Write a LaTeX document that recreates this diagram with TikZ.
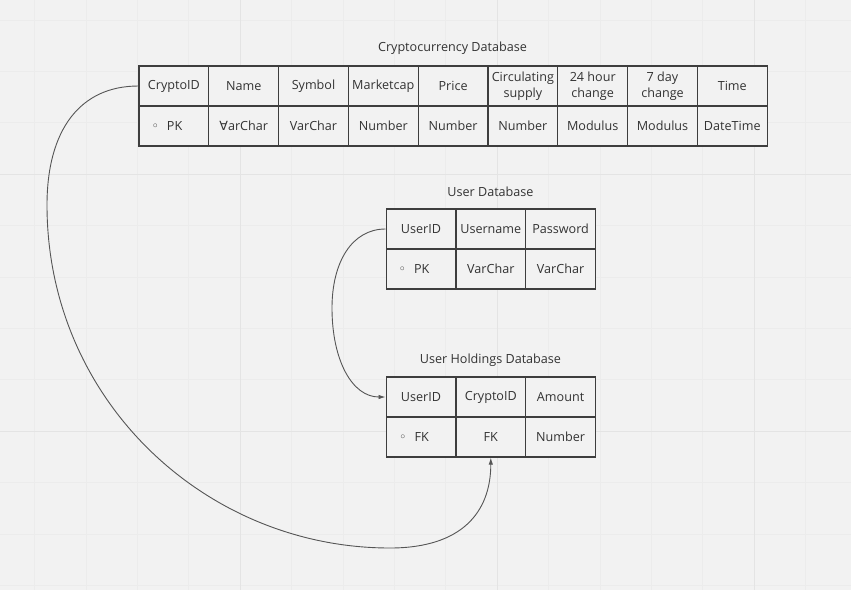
\documentclass[tikz,border=0pt]{standalone}
\usepackage{fontspec}
\setmainfont{Open Sans}
\newfontfamily\symfont{DejaVu Sans}
\usetikzlibrary{arrows.meta}
\definecolor{canvas}{RGB}{242,242,242}
\definecolor{gridminor}{RGB}{236,236,236}
\definecolor{gridmajor}{RGB}{228,228,228}
\definecolor{cellline}{RGB}{62,62,62}
\definecolor{textgray}{RGB}{51,51,51}
\definecolor{linkgray}{RGB}{85,85,85}
\tikzstyle{cell} = [rectangle, minimum width=69.8pt, minimum height=40pt, inner sep=0pt, align=center, draw=cellline, line width=1.2pt, fill=canvas, text=textgray, font=\fontsize{12.6}{16}\selectfont]
\tikzstyle{tabletitle} = [text=textgray, font=\fontsize{12.6}{15}\selectfont]
\tikzstyle{link} = [linkgray, line width=0.9pt, -{Latex[length=7pt,width=4.5pt]}]
\tikzstyle{gridline} = [gridminor, line width=0.8pt]
\tikzstyle{gridbold} = [gridmajor, line width=1.1pt]

\begin{document}
\begin{tikzpicture}[x=1pt, y=-1pt]

% Canvas and board grid
\useasboundingbox (0,0) rectangle (851,590);
\fill[canvas] (0,0) rectangle (851,590);
\foreach \k in {0,...,16} {
  \draw[gridline] ({34.6+51.4*\k},0) -- ({34.6+51.4*\k},590);
}
\foreach \k in {0,...,11} {
  \draw[gridline] (0,{20+51.4*\k}) -- (851,{20+51.4*\k});
}
\foreach \k in {4,9,14} {
  \draw[gridbold] ({34.6+51.4*\k},0) -- ({34.6+51.4*\k},590);
}
\foreach \k in {3,8} {
  \draw[gridbold] (0,{20+51.4*\k}) -- (851,{20+51.4*\k});
}

% Cryptocurrency table
\node[tabletitle] (crypto_title) at (452.5,48) {Cryptocurrency Database};
\node[cell] (crypto_id) at (173.9,86) {CryptoID};
\node[cell] (crypto_name) at (243.7,86) {Name};
\node[cell] (crypto_symbol) at (313.5,86) {Symbol};
\node[cell] (crypto_cap) at (383.3,86) {Marketcap};
\node[cell] (crypto_price) at (453.1,86) {Price};
\node[cell] (crypto_supply) at (522.9,86) {Circulating\\supply};
\node[cell] (crypto_day) at (592.7,86) {24 hour\\change};
\node[cell] (crypto_week) at (662.5,86) {7 day\\change};
\node[cell] (crypto_time) at (732.3,86) {Time};
\node[cell] (crypto_id_t) at (173.9,126) {\hspace{-14pt}{\symfont ◦}\hspace{8pt}PK};
\node[cell] (crypto_name_t) at (243.7,126) {{\symfont ∀}arChar};
\node[cell] (crypto_symbol_t) at (313.5,126) {VarChar};
\node[cell] (crypto_cap_t) at (383.3,126) {Number};
\node[cell] (crypto_price_t) at (453.1,126) {Number};
\node[cell] (crypto_supply_t) at (522.9,126) {Number};
\node[cell] (crypto_day_t) at (592.7,126) {Modulus};
\node[cell] (crypto_week_t) at (662.5,126) {Modulus};
\node[cell] (crypto_time_t) at (732.3,126) {DateTime};

% User table
\node[tabletitle] (user_title) at (490.5,192) {User Database};
\node[cell] (user_id) at (421,229) {UserID};
\node[cell] (user_name) at (490.8,229) {Username};
\node[cell] (user_pass) at (560.6,229) {Password};
\node[cell] (user_id_t) at (421,269) {\hspace{-14pt}{\symfont ◦}\hspace{8pt}PK};
\node[cell] (user_name_t) at (490.8,269) {VarChar};
\node[cell] (user_pass_t) at (560.6,269) {VarChar};

% User holdings table
\node[tabletitle] (hold_title) at (490.5,360) {User Holdings Database};
\node[cell] (hold_user) at (421,397) {UserID};
\node[cell] (hold_crypto) at (490.8,397) {CryptoID};
\node[cell] (hold_amount) at (560.6,397) {Amount};
\node[cell] (hold_user_t) at (421,437) {\hspace{-14pt}{\symfont ◦}\hspace{8pt}FK};
\node[cell] (hold_crypto_t) at (490.8,437) {FK};
\node[cell] (hold_amount_t) at (560.6,437) {Number};

% Foreign keys
\coordinate (crypto_bend) at (47,205);
\coordinate (crypto_low) at (390,548);
\draw[link] (crypto_id.west) .. controls (80,86) and (47,130) .. (crypto_bend)
  .. controls (47,400) and (205,548) .. (crypto_low)
  .. controls (462,548) and (hold_crypto_t.south |- 0,512) .. (hold_crypto_t.south);
\coordinate (user_bend) at (332,308);
\draw[link] (user_id.west) .. controls (352,229) and (332,262) .. (user_bend)
  .. controls (332,360) and (352,397) .. (hold_user.west);

\end{tikzpicture}
\end{document}
